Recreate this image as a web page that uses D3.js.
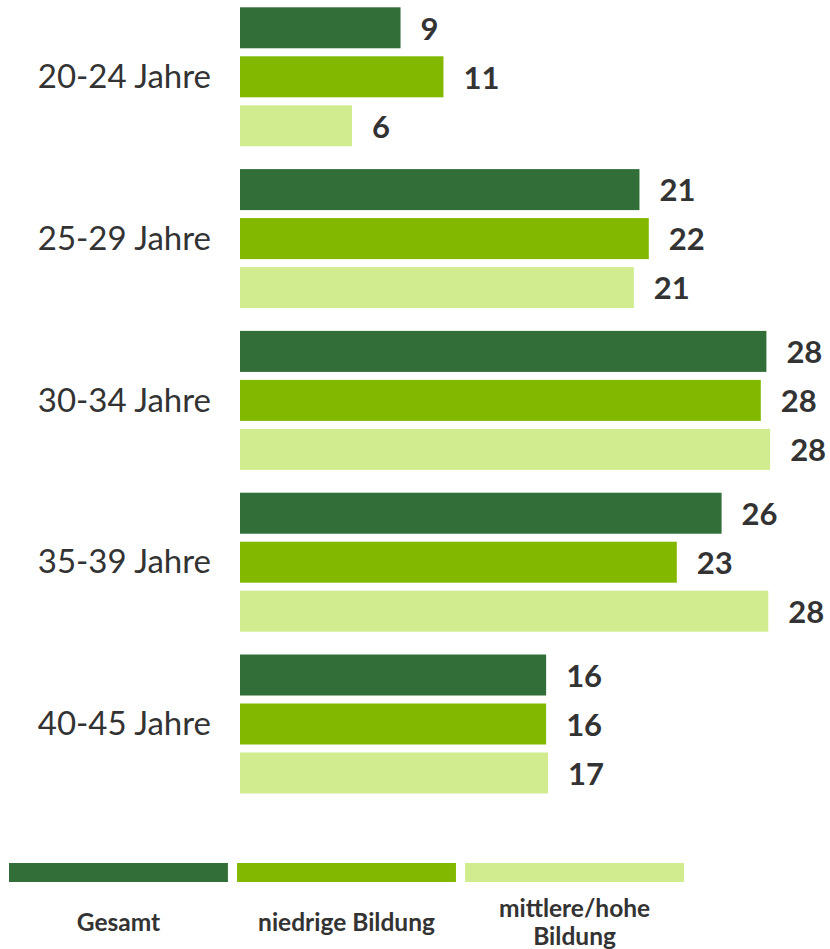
<!DOCTYPE html>
<html>
<head>
<meta charset="utf-8">
<script src="https://cdn.jsdelivr.net/npm/d3@7"></script>
<style>
  body { margin: 0; background: #fff; }
  text { font-family: Lato, "Open Sans", sans-serif; fill: #333; }
</style>
</head>
<body>
<div id="chart"></div>
<script>
(function(){
  // age groups and series
  const categories = ["20-24 Jahre", "25-29 Jahre", "30-34 Jahre", "35-39 Jahre", "40-45 Jahre"];
  const series = ["Gesamt", "niedrige Bildung", "mittlere/hohe Bildung"];
  const legendLines = [["Gesamt"], ["niedrige Bildung"], ["mittlere/hohe", "Bildung"]];
  const colors = ["#316e38", "#82b900", "#d1ec8f"];

  // values per series (percent)
  const gesamt = [8.6, 21.4, 28.2, 25.8, 16.4];
  const niedrig = [10.9, 21.9, 27.9, 23.4, 16.4];
  const mittelHoch = [6.0, 21.1, 28.4, 28.3, 16.5];
  const values = [gesamt, niedrig, mittelHoch];

  const width = 830, height = 949;

  const svg = d3.select("#chart").append("svg")
    .attr("width", width)
    .attr("height", height);

  const x = d3.scaleLinear().domain([0, 30]).range([240, 800]);

  const y = d3.scaleBand()
    .domain(categories)
    .range([7.3, 793.5])
    .paddingInner(0.141)
    .paddingOuter(0);

  const yInner = d3.scaleBand()
    .domain(series)
    .range([0, y.bandwidth()])
    .paddingInner(8 / 49);

  const rows = [];
  categories.forEach((c, ci) => {
    series.forEach((s, si) => {
      rows.push({ cat: c, ser: s, si: si, v: values[si][ci] });
    });
  });

  const bars = svg.append("g");
  bars.selectAll("rect")
    .data(rows)
    .join("rect")
    .attr("x", x(0))
    .attr("y", d => y(d.cat) + yInner(d.ser))
    .attr("width", d => x(d.v) - x(0))
    .attr("height", yInner.bandwidth())
    .attr("fill", d => colors[d.si]);

  // value labels
  svg.append("g").selectAll("text")
    .data(rows)
    .join("text")
    .attr("x", d => x(d.v) + 20)
    .attr("y", d => y(d.cat) + yInner(d.ser) + yInner.bandwidth() / 2)
    .attr("dy", "0.38em")
    .style("font-size", "31px")
    .style("font-weight", "bold")
    .text(d => Math.round(d.v));

  // category labels
  svg.append("g").selectAll("text")
    .data(categories)
    .join("text")
    .attr("x", 211)
    .attr("y", d => y(d) + yInner(series[1]) + yInner.bandwidth() / 2)
    .attr("dy", "0.34em")
    .attr("text-anchor", "end")
    .style("font-size", "33px")
    .text(d => d);

  // legend
  const lx = d3.scaleBand()
    .domain(series)
    .range([9, 684])
    .paddingInner(0.04);

  const legend = svg.append("g");
  legend.selectAll("rect")
    .data(series)
    .join("rect")
    .attr("x", d => lx(d))
    .attr("y", 863)
    .attr("width", lx.bandwidth())
    .attr("height", 19)
    .attr("fill", (d, i) => colors[i]);

  const lt = legend.selectAll("text.leg")
    .data(series)
    .join("text")
    .attr("class", "leg")
    .attr("text-anchor", "middle")
    .style("font-size", "24.5px")
    .style("font-weight", "bold");

  lt.each(function(d, i) {
    const lines = legendLines[i];
    d3.select(this).selectAll("tspan")
      .data(lines)
      .join("tspan")
      .attr("x", lx(d) + lx.bandwidth() / 2)
      .attr("y", (l, j) => 931 + (j - (lines.length - 1) / 2) * 28)
      .text(l => l);
  });
})();
</script>
</body>
</html>
